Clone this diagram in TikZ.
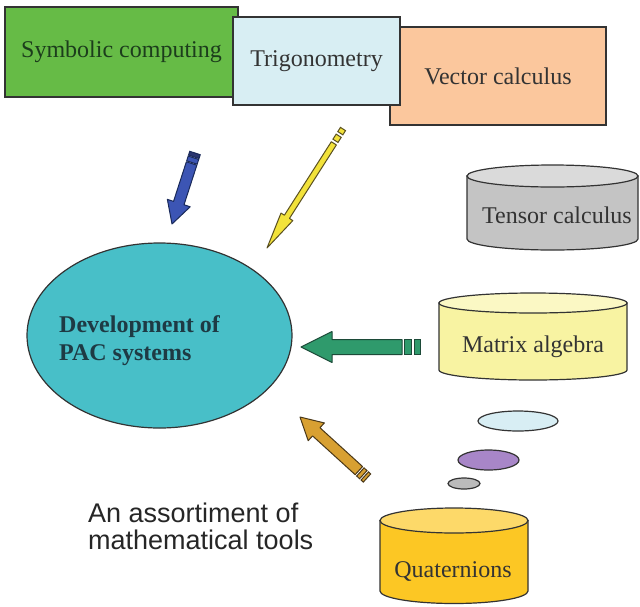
\documentclass[tikz,border=0pt]{standalone}
\usepackage{fontspec}
\setmainfont{Liberation Serif}
\newfontfamily\arialf{Liberation Sans}
\usetikzlibrary{calc,shapes.geometric}
\definecolor{boxline}{HTML}{333333}
\definecolor{txt}{HTML}{333333}
\definecolor{symg}{HTML}{66BB46}
\definecolor{symtxt}{HTML}{1C3D1C}
\definecolor{trigc}{HTML}{D8EEF3}
\definecolor{vecc}{HTML}{FBC79D}
\definecolor{tensb}{HTML}{C4C4C4}
\definecolor{tenst}{HTML}{DADADA}
\definecolor{matb}{HTML}{F8F3A2}
\definecolor{matt}{HTML}{FBF8C4}
\definecolor{quab}{HTML}{FCC724}
\definecolor{quat}{HTML}{FDD969}
\definecolor{pacc}{HTML}{48BFC8}
\definecolor{pactxt}{HTML}{1E3A44}
\definecolor{bub1}{HTML}{D8EEF4}
\definecolor{bub2}{HTML}{A886C8}
\definecolor{bub3}{HTML}{BBBBBB}
\definecolor{blueA}{HTML}{3C55B4}
\definecolor{blueD}{HTML}{2A3570}
\definecolor{blueO}{HTML}{1A2A5A}
\definecolor{yelA}{HTML}{F2E23A}
\definecolor{yelO}{HTML}{5A5020}
\definecolor{grnA}{HTML}{2F9A6C}
\definecolor{grnO}{HTML}{1C4A38}
\definecolor{gldA}{HTML}{D8A032}
\definecolor{gldO}{HTML}{4A3818}
% block arrow: tail, tip, start offset, shaft hw, head hw, head len, fill, outline
\newcommand\barrow[8]{%
 \coordinate (bT) at ($(#1)!#3!(#2)$);
 \coordinate (bS) at ($(#2)!#6!(#1)$);
 \filldraw[fill=#7,draw=#8,line width=1pt,line join=round]
  ($(bT)!#4!90:(#2)$) -- ($(bS)!#4!90:(#2)$) -- ($(bS)!#5!90:(#2)$) -- (#2)
  -- ($(bS)!#5!-90:(#2)$) -- ($(bS)!#4!-90:(#2)$) -- ($(bT)!#4!-90:(#2)$) -- cycle;}
% stripe: tail, tip, from, to, hw, style
\newcommand\bstripe[6]{%
 \coordinate (sA) at ($(#1)!#3!(#2)$);
 \coordinate (sB) at ($(#1)!#4!(#2)$);
 \filldraw[#6] ($(sA)!#5!90:(#2)$) -- ($(sB)!#5!90:(#2)$) -- ($(sB)!#5!-90:(#2)$) -- ($(sA)!#5!-90:(#2)$) -- cycle;}
% cylinder: cx, ytop, ybot, rx, ry, body fill, top fill
\newcommand\cylshape[7]{%
 \filldraw[fill=#6,draw=boxline,line width=1.2pt] (#1-#4,#2) -- (#1-#4,#3)
   arc[start angle=180,end angle=360,x radius=#4pt,y radius=#5pt] -- (#1+#4,#2) -- cycle;
 \filldraw[fill=#7,draw=boxline,line width=1.2pt] (#1,#2) ellipse[x radius=#4pt,y radius=#5pt];}
\tikzset{
 box/.style={draw=boxline,line width=1.2pt,rectangle,inner sep=0pt,font=\fontsize{24}{28}\selectfont,text=txt},
 cyltext/.style={anchor=base,inner sep=0pt,font=\fontsize{24}{28}\selectfont,text=txt},
 bubble/.style={draw=boxline,line width=1.2pt,ellipse,inner sep=0pt},
 pactext/.style={anchor=base west,inner sep=0pt,font=\fontsize{24}{28}\selectfont\bfseries,text=pactxt},
 captext/.style={anchor=base west,inner sep=0pt,font=\arialf\fontsize{27}{28}\selectfont,text=black!85},
}
\begin{document}
\begin{tikzpicture}[x=1pt,y=-1pt]
\fill[white] (0,0) rectangle (640,606);
\useasboundingbox (0,0) rectangle (640,606);
% top boxes
\node[box,fill=symg,text=symtxt,minimum width=233pt,minimum height=90pt] (sym) at (121.5,52) {Symbolic computing};
\node[box,fill=vecc,minimum width=216pt,minimum height=98pt] (vec) at (498,76) {Vector calculus};
\node[box,fill=trigc,minimum width=167pt,minimum height=88pt] (trig) at (316.5,61) {Trigonometry};
% central ellipse
\node[ellipse,draw=boxline,line width=1.2pt,fill=pacc,minimum width=265pt,minimum height=185pt,inner sep=0pt] (pac) at (159.5,335.5) {};
\node[pactext] (pac1) at (59,332) {Development of};
\node[pactext] (pac2) at (59,360) {PAC systems};
% cylinders
\cylshape{552.5}{176}{239}{85.5}{11}{tensb}{tenst}
\node[cyltext] (tensor) at (557,223) {Tensor calculus};
\cylshape{533}{303}{370}{94}{10}{matb}{matt}
\node[cyltext] (matrix) at (533,352) {Matrix algebra};
\cylshape{454}{520.5}{591}{74}{12.5}{quab}{quat}
\node[cyltext] (quat) at (453,577) {Quaternions};
% bubbles
\node[bubble,fill=bub1,minimum width=80pt,minimum height=20pt] (b1) at (518,421) {};
\node[bubble,fill=bub2,minimum width=61pt,minimum height=20pt] (b2) at (488.5,460) {};
\node[bubble,fill=bub3,minimum width=32pt,minimum height=11pt] (b3) at (464,483.5) {};
% caption
\node[captext] (cap1) at (88,522) {An assortiment of};
\node[captext] (cap2) at (88,549) {mathematical tools};
% arrows
\coordinate (blueT) at (195,153);
\coordinate (blueH) at (172,224);
\bstripe{blueT}{blueH}{0pt}{4pt}{5.5pt}{fill=blueD,draw=blueO,line width=1pt}
\bstripe{blueT}{blueH}{5pt}{10pt}{5.5pt}{fill=blueA,draw=blueO,line width=1pt}
\barrow{blueT}{blueH}{11pt}{5.5pt}{12pt}{22pt}{blueA}{blueO}
\coordinate (yelT) at (343,129);
\coordinate (yelH) at (267,248);
\bstripe{yelT}{yelH}{0pt}{5pt}{3pt}{fill=yelA,draw=yelO,line width=1pt}
\bstripe{yelT}{yelH}{8pt}{14pt}{3pt}{fill=yelA,draw=yelO,line width=1pt}
\barrow{yelT}{yelH}{17pt}{3pt}{7pt}{37pt}{yelA}{yelO}
\coordinate (grnT) at (420,347);
\coordinate (grnH) at (301,347);
\bstripe{grnT}{grnH}{0pt}{6pt}{7.5pt}{fill=grnA,draw=grnO,line width=1pt}
\bstripe{grnT}{grnH}{9pt}{16pt}{7.5pt}{fill=grnA,draw=grnO,line width=1pt}
\barrow{grnT}{grnH}{18pt}{7.5pt}{15.5pt}{31pt}{grnA}{grnO}
\coordinate (gldT) at (367,478);
\coordinate (gldH) at (300,417);
\bstripe{gldT}{gldH}{0pt}{3pt}{5.5pt}{fill=gldA,draw=gldO,line width=1pt}
\bstripe{gldT}{gldH}{5pt}{9pt}{5.5pt}{fill=gldA,draw=gldO,line width=1pt}
\barrow{gldT}{gldH}{11pt}{5.5pt}{12pt}{22pt}{gldA}{gldO}
\end{tikzpicture}
\end{document}
